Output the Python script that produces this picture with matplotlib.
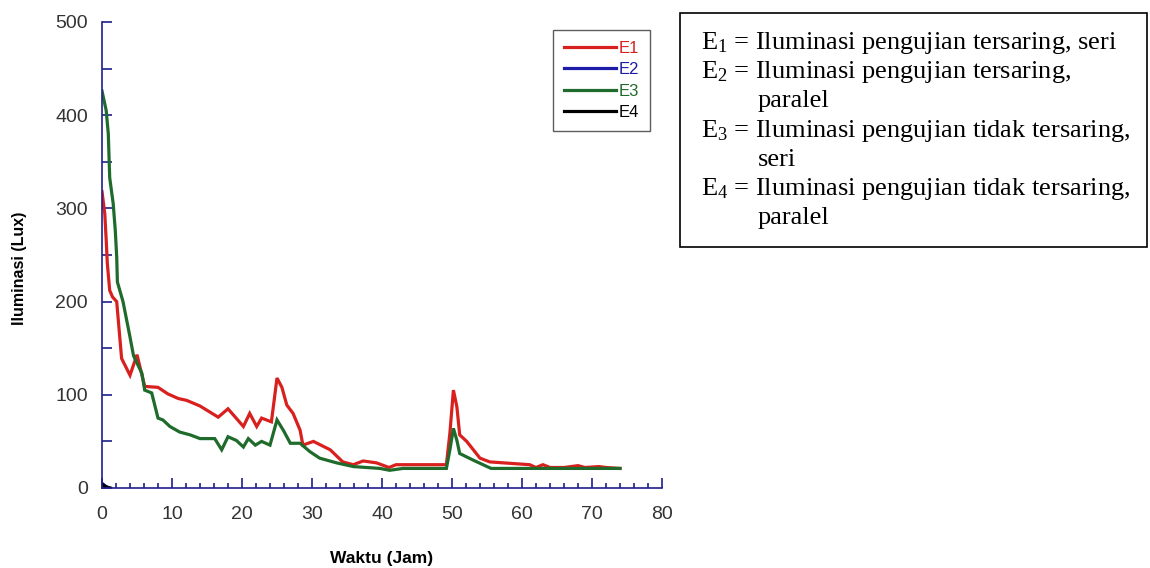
import matplotlib
matplotlib.use("Agg")
import matplotlib.pyplot as plt
from matplotlib.patches import Rectangle
from matplotlib.ticker import MultipleLocator

# E1: tersaring, seri
e1_x = [0, 0.4, 0.6, 0.76, 1.1, 1.5, 2.1, 2.8, 4, 5, 6.1, 8, 9.4, 10.9, 12.1, 14,
        16.6, 18, 20.2, 21.1, 22.1, 22.8, 24.2, 25, 25.7, 26.4, 27.3, 28.3, 28.7,
        30.2, 32.6, 34.4, 35.9, 37.3, 39.2, 41, 42, 49.2, 49.7, 50.2, 50.7, 51.1,
        52.1, 54, 55.4, 61.1, 62, 63, 64, 66, 68, 69, 71, 72, 74]
e1_y = [318, 294, 266, 241, 212, 205, 200, 139, 121, 143, 109, 108, 101, 96, 94, 88,
        76, 85, 66, 80, 66, 75, 71, 118, 108, 89, 80, 62, 46,
        50, 41, 28, 25, 29, 27, 22, 25, 25, 59, 105, 87, 57,
        50, 32, 28, 25, 22, 25, 22, 22, 24, 22, 23, 22, 21]

# E2: tersaring, paralel
e2_x = [0, 0.5, 1.0]
e2_y = [5, 2, 0]

# E3: tidak tersaring, seri
e3_x = [0, 0.6, 0.9, 1.1, 1.6, 1.9, 2.1, 2.2, 3, 4, 4.5, 5.7, 6.1, 7.1, 8, 8.7,
        9.7, 11.1, 12.6, 14, 16.1, 17.1, 18, 19.2, 20.2, 20.9, 21.9, 22.8, 24,
        25, 25.9, 26.9, 28.3, 29.7, 31.1, 33.5, 35.9, 39.7, 41.1, 43, 49.2, 49.7,
        50.2, 50.7, 51.1, 53, 55, 55.6, 74]
e3_y = [426, 405, 380, 333, 305, 276, 248, 221, 200, 162, 142, 123, 105, 102, 75, 73,
        66, 60, 57, 53, 53, 41, 55, 51, 44, 53, 46, 50, 46,
        73, 62, 48, 48, 39, 32, 27, 23, 21, 19, 21, 21, 41,
        64, 51, 37, 30, 23, 21, 21]

# E4: tidak tersaring, paralel
e4_x = [0, 0.6, 1.2]
e4_y = [4, 1, 0]

series_names = ["E1", "E2", "E3", "E4"]
series_colors = ["#d8201e", "#1c1ca8", "#1f6b2c", "#000000"]

note_lines = [
    (0, "E$_1$ = Iluminasi pengujian tersaring, seri"),
    (0, "E$_2$ = Iluminasi pengujian tersaring,"),
    (1, "paralel"),
    (0, "E$_3$ = Iluminasi pengujian tidak tersaring,"),
    (1, "seri"),
    (0, "E$_4$ = Iluminasi pengujian tidak tersaring,"),
    (1, "paralel"),
]

plt.rcParams["font.family"] = ["Liberation Sans", "DejaVu Sans"]
plt.rcParams["mathtext.fontset"] = "custom"
plt.rcParams["mathtext.rm"] = "Liberation Serif"
plt.rcParams["mathtext.it"] = "Liberation Serif"

axis_color = "#1f1f8c"

fig = plt.figure(figsize=(11.5, 5.68), dpi=100)
ax = fig.add_axes([102 / 1150, 1 - 488 / 568, 560 / 1150, 466 / 568])

for xs, ys, name, col in zip([e1_x, e2_x, e3_x, e4_x], [e1_y, e2_y, e3_y, e4_y],
                             series_names, series_colors):
    ax.plot(xs, ys, color=col, lw=2.3, label=name, solid_joinstyle="miter")

ax.set_xlim(0, 80)
ax.set_ylim(0, 500)
ax.spines["top"].set_visible(False)
ax.spines["right"].set_visible(False)
for s in ("left", "bottom"):
    ax.spines[s].set_color(axis_color)
    ax.spines[s].set_linewidth(1.2)

ax.xaxis.set_major_locator(MultipleLocator(10))
ax.xaxis.set_minor_locator(MultipleLocator(2))
ax.yaxis.set_major_locator(MultipleLocator(100))
ax.yaxis.set_minor_locator(MultipleLocator(50))
ax.tick_params(axis="x", which="major", direction="in", length=7, width=1.2,
               color=axis_color, labelsize=14, labelcolor="#333333", pad=13)
ax.tick_params(axis="x", which="minor", direction="in", length=3.5, width=1.2,
               color=axis_color)
ax.tick_params(axis="y", which="both", direction="in", length=7.5, width=1.2,
               color=axis_color, labelsize=14, labelcolor="#333333", pad=10)

ax.set_xlabel("Waktu (Jam)", fontsize=12.5, fontweight="bold", va="center")
ax.xaxis.set_label_coords(0.5, (488 - 558) / 466)
ax.set_ylabel("Iluminasi (Lux)", fontsize=11.5, fontweight="bold", va="center")
ax.yaxis.set_label_coords((20 - 102) / 560, (488 - 268) / 466)

leg = ax.legend(loc="upper left", bbox_to_anchor=((553 - 102) / 560, (488 - 30) / 466),
                fontsize=12, frameon=True, fancybox=False, handlelength=3.1,
                handletextpad=0.2, labelspacing=0.38, borderpad=0.65, borderaxespad=0)
leg.get_frame().set_edgecolor("#333333")
leg.get_frame().set_linewidth(1.0)
for txt, col in zip(leg.get_texts(), series_colors):
    txt.set_color(col)

# note box on the right
fig.patches.append(Rectangle((680 / 1150, 1 - 247 / 568), 467 / 1150, 234 / 568,
                             transform=fig.transFigure, fill=False,
                             edgecolor="black", linewidth=1.2))
y0 = 43
for i, (indent, s) in enumerate(note_lines):
    x = (701 + indent * 57) / 1150
    y = 1 - (y0 + i * 29.2) / 568
    fig.text(x, y, s, family=["Liberation Serif", "DejaVu Serif"], fontsize=19,
             va="center", ha="left", color="black")

fig.savefig("out.png", dpi=100)
